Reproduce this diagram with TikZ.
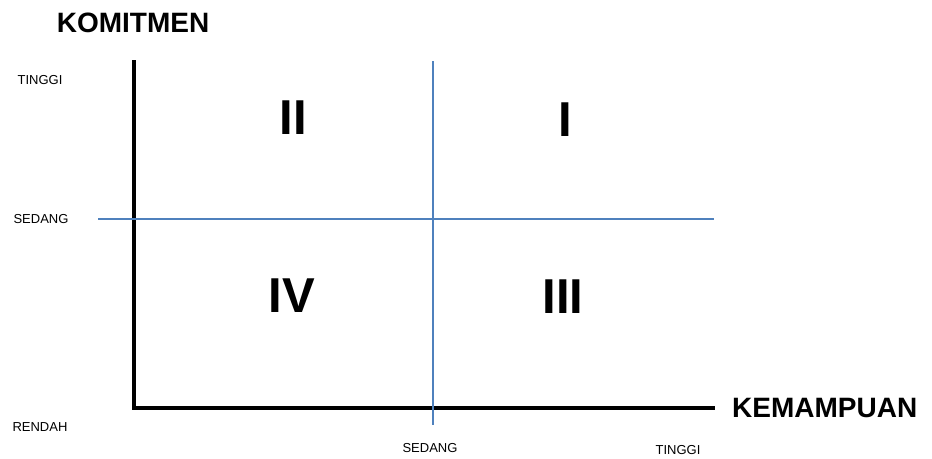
\documentclass[tikz,border=0pt]{standalone}
\usepackage{fontspec}
\setmainfont{Liberation Sans}
\usepackage{tikz}
\usetikzlibrary{positioning,calc}
\definecolor{gridblue}{HTML}{4F81BD}

\begin{document}
\begin{tikzpicture}[
    x=1pt, y=-1pt,
    every node/.style={inner sep=0pt},
    axis/.style={line width=4.5pt, line cap=rect},
    divider/.style={gridblue, line width=1.6pt},
    axistitle/.style={font=\fontsize{28}{30}\selectfont\bfseries},
    level/.style={font=\fontsize{13}{15}\selectfont},
    quad/.style={font=\fontsize{49}{52}\selectfont\bfseries},
  ]
  \useasboundingbox (0,0) rectangle (932,458);

  % corner points of the axes and the dividing lines
  \coordinate (orig)  at (134,408);
  \coordinate (ytop)  at (134,62);
  \coordinate (xend)  at (713,408);
  \coordinate (hleft) at (98,219);
  \coordinate (hright) at (714,219);
  \coordinate (vtop)  at (433,61);
  \coordinate (vbot)  at (433,425);

  % axes
  \draw[axis] (ytop) -- (orig) -- (xend);

  % quadrant dividers
  \draw[divider] (hleft) -- (hright);
  \draw[divider] (vtop) -- (vbot);

  % axis titles
  \node[axistitle] (komit) at (133,23) {KOMITMEN};
  \node[axistitle, anchor=west] (kemamp) at (732,408) {KEMAMPUAN};

  % levels on the vertical axis
  \node[level] (ytinggi) at (40,80)  {TINGGI};
  \node[level] (ysedang) at (41,219) {SEDANG};
  \node[level] (yrendah) at (40,427) {RENDAH};

  % levels on the horizontal axis
  \node[level] (xsedang) at (430,448) {SEDANG};
  \node[level] (xtinggi) at (678,450) {TINGGI};

  % quadrants
  \node[quad] (q2) at (293,118) {II};
  \node[quad] (q1) at (565,120) {I};
  \node[quad] (q4) at (292,296) {IV};
  \node[quad] (q3) at (563,297) {III};
\end{tikzpicture}
\end{document}
